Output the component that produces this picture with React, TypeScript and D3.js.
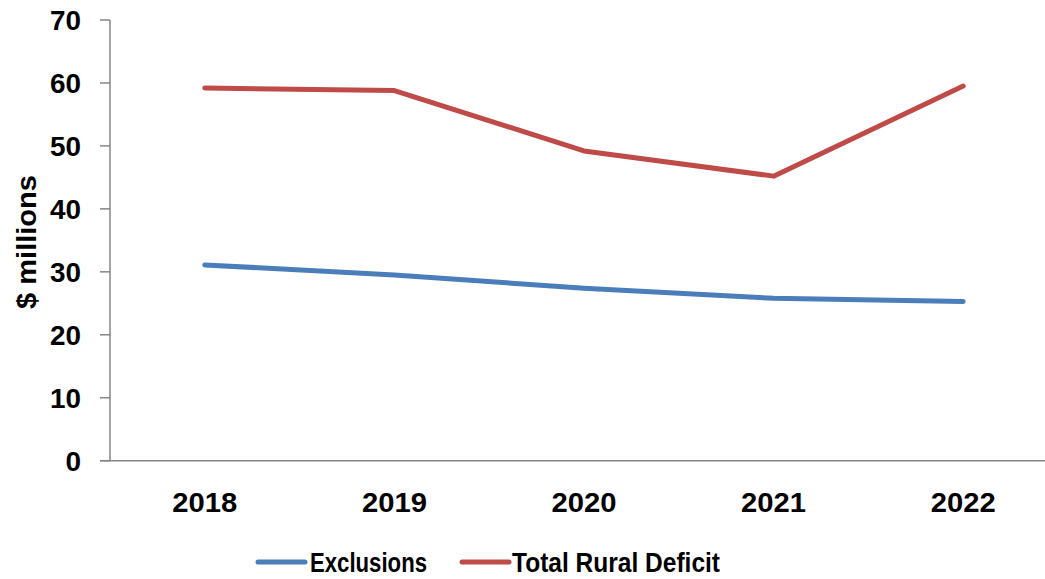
import React from "react";
import * as d3 from "d3";

const years = ["2018", "2019", "2020", "2021", "2022"];
const exclusions = [31.1, 29.5, 27.4, 25.8, 25.3];
const totalRuralDeficit = [59.2, 58.8, 49.2, 45.2, 59.5];
const yTicks = [0, 10, 20, 30, 40, 50, 60, 70];

const W = 1045;
const H = 579;
const FONT = "'Liberation Sans', Arial, sans-serif";

export default function App() {
  const x = d3.scaleBand<string>().domain(years).range([110, 1058]);
  const y = d3.scaleLinear().domain([0, 70]).range([460.7, 20]);
  const cx = (d: string) => (x(d) as number) + x.bandwidth() / 2;

  const line = d3
    .line<number>()
    .x((_, i) => cx(years[i]))
    .y((v) => y(v));

  const series = [
    { name: "Exclusions", values: exclusions, color: "#4A7EBB", lx: 258, tx: 310, tw: 117 },
    { name: "Total Rural Deficit", values: totalRuralDeficit, color: "#BE4B48", lx: 462, tx: 512, tw: 208 },
  ];

  return (
    <svg
      width={W}
      height={H}
      style={{ position: "absolute", left: 0, top: 0, background: "#fff" }}
      fontFamily={FONT}
      fontWeight="bold"
    >
      {/* y axis */}
      <line x1={110} x2={110} y1={y(70)} y2={y(0)} stroke="#868686" strokeWidth={1.5} />
      {yTicks.map((t) => (
        <g key={t}>
          <line x1={100} x2={110} y1={y(t)} y2={y(t)} stroke="#868686" strokeWidth={1.5} />
          <text
            x={81}
            y={y(t) + 10}
            textAnchor="end"
            fontSize={28}
            fill="#000"
            textLength={t === 0 ? undefined : 31}
            lengthAdjust="spacingAndGlyphs"
          >
            {t}
          </text>
        </g>
      ))}
      {/* x axis */}
      <line x1={100} x2={1058} y1={y(0)} y2={y(0)} stroke="#868686" strokeWidth={1.5} />
      {years.map((yr) => (
        <text
          key={yr}
          x={cx(yr)}
          y={512}
          textAnchor="middle"
          fontSize={28}
          fill="#000"
          textLength={65}
          lengthAdjust="spacingAndGlyphs"
        >
          {yr}
        </text>
      ))}
      {/* y title */}
      <text
        transform={`translate(36,242) rotate(-90)`}
        textAnchor="middle"
        fontSize={28}
        fill="#000"
        textLength={134}
        lengthAdjust="spacingAndGlyphs"
      >
        $ millions
      </text>
      {/* lines */}
      {series.map((s) => (
        <path
          key={s.name}
          d={line(s.values) || ""}
          fill="none"
          stroke={s.color}
          strokeWidth={5}
          strokeLinecap="round"
          strokeLinejoin="round"
        />
      ))}
      {/* legend */}
      {series.map((s) => (
        <g key={s.name + "-leg"}>
          <line x1={s.lx} x2={s.lx + 47} y1={562} y2={562} stroke={s.color} strokeWidth={5} strokeLinecap="round" />
          <text x={s.tx} y={572} fontSize={27} fill="#000" textLength={s.tw} lengthAdjust="spacingAndGlyphs">
            {s.name}
          </text>
        </g>
      ))}
    </svg>
  );
}
